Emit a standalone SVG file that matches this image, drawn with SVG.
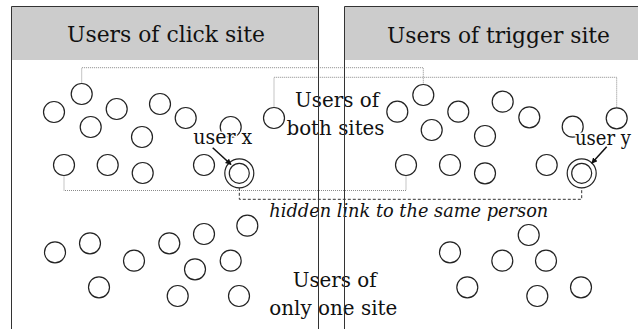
<svg xmlns="http://www.w3.org/2000/svg" width="638" height="329" viewBox="0 0 638 329">
<defs>
<style>
.hdr{fill:#cccccc}
.t{font-family:"DejaVu Serif","Liberation Serif",serif;fill:#111;}
.h{font-size:23px;}
.b{font-size:20px;}
.lbl{font-size:20px;}
.halo{paint-order:stroke;stroke:#fff;stroke-width:3px;stroke-linejoin:round;}
.it{font-size:18px;font-style:italic;}
.c{fill:#fff;stroke:#222;stroke-width:1.2}
.dot{fill:none;stroke:#8a8a8a;stroke-width:1;stroke-dasharray:1 1}
.dash{fill:none;stroke:#333;stroke-width:1;stroke-dasharray:3 2}
.arr{stroke:#111;stroke-width:1.5;fill:none}
.border{fill:none;stroke:#333;stroke-width:1}
</style>
<marker id="ah" viewBox="0 0 10 10" refX="9" refY="5" markerWidth="4" markerHeight="4" orient="auto">
<path d="M0,0 L10,5 L0,10 z" fill="#111"/>
</marker>
</defs>
<rect width="638" height="329" fill="#fff"/>
<g id="panel-click">
<rect class="hdr" x="12" y="6.5" width="306.5" height="53.5"/>
<text class="t h" x="67" y="42" textLength="198" lengthAdjust="spacingAndGlyphs">Users of click site</text>
</g>
<g id="panel-trigger">
<rect class="hdr" x="344.5" y="6.5" width="294" height="53.5"/>
<text class="t h" x="387" y="42.5" textLength="223" lengthAdjust="spacingAndGlyphs">Users of trigger site</text>
</g>
<g id="connectors">
<path class="dot" d="M81.7,83.5 V67.7 H423.3 V84.5"/>
<path class="dot" d="M274,107.5 V77.3 H616.7 V107.8"/>
<path class="dot" d="M64,175.5 V190.5 H406 V175.5"/>
<path class="dash" d="M239.3,187.8 V199.3 H581.7 V187.8"/>
</g>
<g id="users-click">
<circle class="c" cx="81.7" cy="94" r="10.5"/>
<circle class="c" cx="54" cy="112" r="10.5"/>
<circle class="c" cx="116.7" cy="109" r="10.5"/>
<circle class="c" cx="160" cy="104" r="10.5"/>
<circle class="c" cx="90.7" cy="127" r="10.5"/>
<circle class="c" cx="142" cy="137" r="10.5"/>
<circle class="c" cx="185.7" cy="118" r="10.5"/>
<circle class="c" cx="230.7" cy="127" r="10.5"/>
<circle class="c" cx="274" cy="118" r="10.5"/>
<circle class="c" cx="64" cy="165" r="10.5"/>
<circle class="c" cx="107.7" cy="165" r="10.5"/>
<circle class="c" cx="142.7" cy="173" r="10.5"/>
<circle class="c" cx="204" cy="165" r="10.5"/>
<circle class="c" cx="247.3" cy="225.7" r="10.5"/>
<circle class="c" cx="204" cy="234" r="10.5"/>
<circle class="c" cx="169.3" cy="243.3" r="10.5"/>
<circle class="c" cx="90" cy="243.3" r="10.5"/>
<circle class="c" cx="55" cy="252.3" r="10.5"/>
<circle class="c" cx="134" cy="260.7" r="10.5"/>
<circle class="c" cx="230.7" cy="260.7" r="10.5"/>
<circle class="c" cx="195" cy="269.3" r="10.5"/>
<circle class="c" cx="99" cy="287.3" r="10.5"/>
<circle class="c" cx="177.7" cy="296" r="10.5"/>
<circle class="c" cx="239" cy="296" r="10.5"/>
</g>
<g id="users-trigger">
<circle class="c" cx="423.3" cy="95" r="10.5"/>
<circle class="c" cx="397.3" cy="111.7" r="10.5"/>
<circle class="c" cx="458.3" cy="111.7" r="10.5"/>
<circle class="c" cx="502.7" cy="101.7" r="10.5"/>
<circle class="c" cx="529.3" cy="117.3" r="10.5"/>
<circle class="c" cx="431.7" cy="130" r="10.5"/>
<circle class="c" cx="485" cy="136" r="10.5"/>
<circle class="c" cx="572.7" cy="126.7" r="10.5"/>
<circle class="c" cx="616.7" cy="118.3" r="10.5"/>
<circle class="c" cx="406" cy="165" r="10.5"/>
<circle class="c" cx="450" cy="165" r="10.5"/>
<circle class="c" cx="485" cy="173.3" r="10.5"/>
<circle class="c" cx="546.7" cy="165" r="10.5"/>
<circle class="c" cx="528.7" cy="235" r="10.5"/>
<circle class="c" cx="450" cy="252.3" r="10.5"/>
<circle class="c" cx="502.3" cy="260.7" r="10.5"/>
<circle class="c" cx="546" cy="260.7" r="10.5"/>
<circle class="c" cx="467.3" cy="287.3" r="10.5"/>
<circle class="c" cx="537.3" cy="296" r="10.5"/>
<circle class="c" cx="581" cy="287.3" r="10.5"/>
</g>
<g id="user-x">
<circle class="c" cx="239.3" cy="173.3" r="14.5"/>
<circle class="c" cx="239.3" cy="173.3" r="10"/>
<text class="t lbl halo" x="193.3" y="144" textLength="59" lengthAdjust="spacingAndGlyphs">user x</text>
<line class="arr" x1="212.7" y1="147.7" x2="231" y2="164.5" marker-end="url(#ah)"/>
</g>
<g id="user-y">
<circle class="c" cx="581.7" cy="173.3" r="14.5"/>
<circle class="c" cx="581.7" cy="173.3" r="10"/>
<text class="t lbl halo" x="575" y="145" textLength="56" lengthAdjust="spacingAndGlyphs">user y</text>
<line class="arr" x1="606.7" y1="146.7" x2="591.7" y2="163.3" marker-end="url(#ah)"/>
</g>
<g id="label-both">
<text class="t b halo" x="295" y="107" textLength="84" lengthAdjust="spacingAndGlyphs">Users of</text>
<text class="t b halo" x="286.5" y="135" textLength="98" lengthAdjust="spacingAndGlyphs">both sites</text>
</g>
<g id="label-hidden">
<text class="t it halo" x="269.3" y="216.7" textLength="279" lengthAdjust="spacingAndGlyphs">hidden link to the same person</text>
</g>
<g id="label-one">
<text class="t b halo" x="292.7" y="286.7" textLength="84" lengthAdjust="spacingAndGlyphs">Users of</text>
<text class="t b halo" x="269.3" y="315" textLength="128" lengthAdjust="spacingAndGlyphs">only one site</text>
</g>
<g id="borders">
<path class="border" d="M11.5,330 V6.5 H318.5 V330"/>
<path class="border" d="M344.5,330 V6.5 H639"/>
</g>
</svg>
